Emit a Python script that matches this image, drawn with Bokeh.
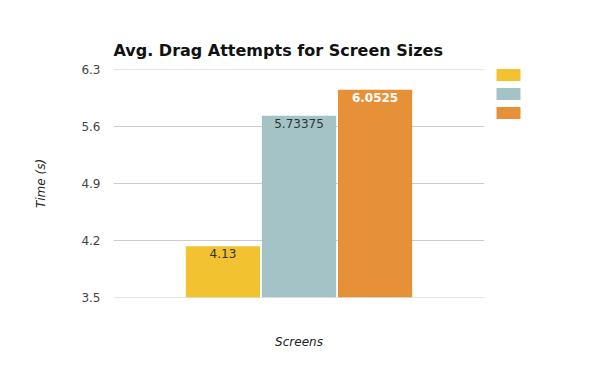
from bokeh.plotting import figure
from bokeh.models import Range1d, FixedTicker, Legend, LegendItem, ColumnDataSource
from bokeh.transform import dodge
from bokeh.core.properties import value
from bokeh.embed import file_html
from bokeh.resources import INLINE

group_label = "Screens"
series = ["Small", "Medium", "Large"]
values = [4.13, 5.73375, 6.0525]
label_texts = ["4.13", "5.73375", "6.0525"]
colors = ["#F2C230", "#A3C3C7", "#E69138"]
label_colors = ["#333333", "#333333", "#FFFFFF"]
label_styles = ["normal", "normal", "bold"]
offsets = [-0.205, 0.0, 0.205]
y_ticks = [3.5, 4.2, 4.9, 5.6, 6.3]

FONT = "DejaVu Sans"
FRAME_W, FRAME_H = 371, 228
EPS = 0.001

p = figure(frame_width=FRAME_W, frame_height=FRAME_H, x_range=Range1d(-0.5, 0.5),
           y_range=Range1d(y_ticks[0] - EPS, y_ticks[-1] + EPS), output_backend="svg",
           toolbar_location=None,
           min_border_left=113, min_border_right=96, min_border_top=69, min_border_bottom=63)
p.outline_line_color = None
p.title.text = "Avg. Drag Attempts for Screen Sizes"
p.title.text_font = FONT
p.title.text_font_size = "16px"
p.title.text_font_style = "bold"
p.title.text_color = "#111111"
p.title.align = "left"
p.title.standoff = 20

items = []
for i in range(3):
    src = ColumnDataSource(dict(x=[0.0], top=[values[i]], t=[label_texts[i]]))
    r = p.vbar(x=dodge("x", offsets[i]), top="top", bottom=y_ticks[0], width=0.2,
               source=src, fill_color=colors[i], line_color=None)
    p.text(x=dodge("x", offsets[i]), y="top", text="t", source=src,
           text_align="center", text_baseline="top", y_offset=3,
           text_font=value(FONT), text_font_size="12px", text_color=label_colors[i],
           text_font_style=label_styles[i])
    items.append(LegendItem(label=value(" "), renderers=[r]))

legend = Legend(items=items, glyph_width=30, glyph_height=15, label_height=15, label_width=1,
                spacing=4, padding=0, margin=0, label_standoff=0,
                border_line_color=None, background_fill_alpha=0,
                label_text_font_size="8px", location=(9, FRAME_H - 53 + 2))
p.add_layout(legend, "right")

p.yaxis.ticker = FixedTicker(ticks=y_ticks)
p.yaxis.axis_line_color = None
p.yaxis.major_tick_line_color = None
p.yaxis.major_tick_out = 0
p.yaxis.major_tick_in = 0
p.yaxis.minor_tick_line_color = None
p.yaxis.major_label_text_font = FONT
p.yaxis.major_label_text_font_size = "12px"
p.yaxis.major_label_text_color = "#444444"
p.yaxis.major_label_standoff = 13
p.yaxis.axis_label = "Time (s)"
p.yaxis.axis_label_text_font = FONT
p.yaxis.axis_label_text_font_size = "12px"
p.yaxis.axis_label_text_font_style = "italic"
p.yaxis.axis_label_text_color = "#222222"
p.yaxis.axis_label_standoff = 30

p.xaxis.ticker = FixedTicker(ticks=[])
p.xaxis.axis_line_color = None
p.xaxis.major_tick_line_color = None
p.xaxis.minor_tick_line_color = None
p.xaxis.axis_label = group_label
p.xaxis.axis_label_text_font = FONT
p.xaxis.axis_label_text_font_size = "12px"
p.xaxis.axis_label_text_font_style = "italic"
p.xaxis.axis_label_text_color = "#222222"
p.xaxis.axis_label_standoff = 37

p.xgrid.grid_line_color = None
p.ygrid.grid_line_color = "#cccccc"

open("out.html", "w").write(file_html(p, INLINE))
